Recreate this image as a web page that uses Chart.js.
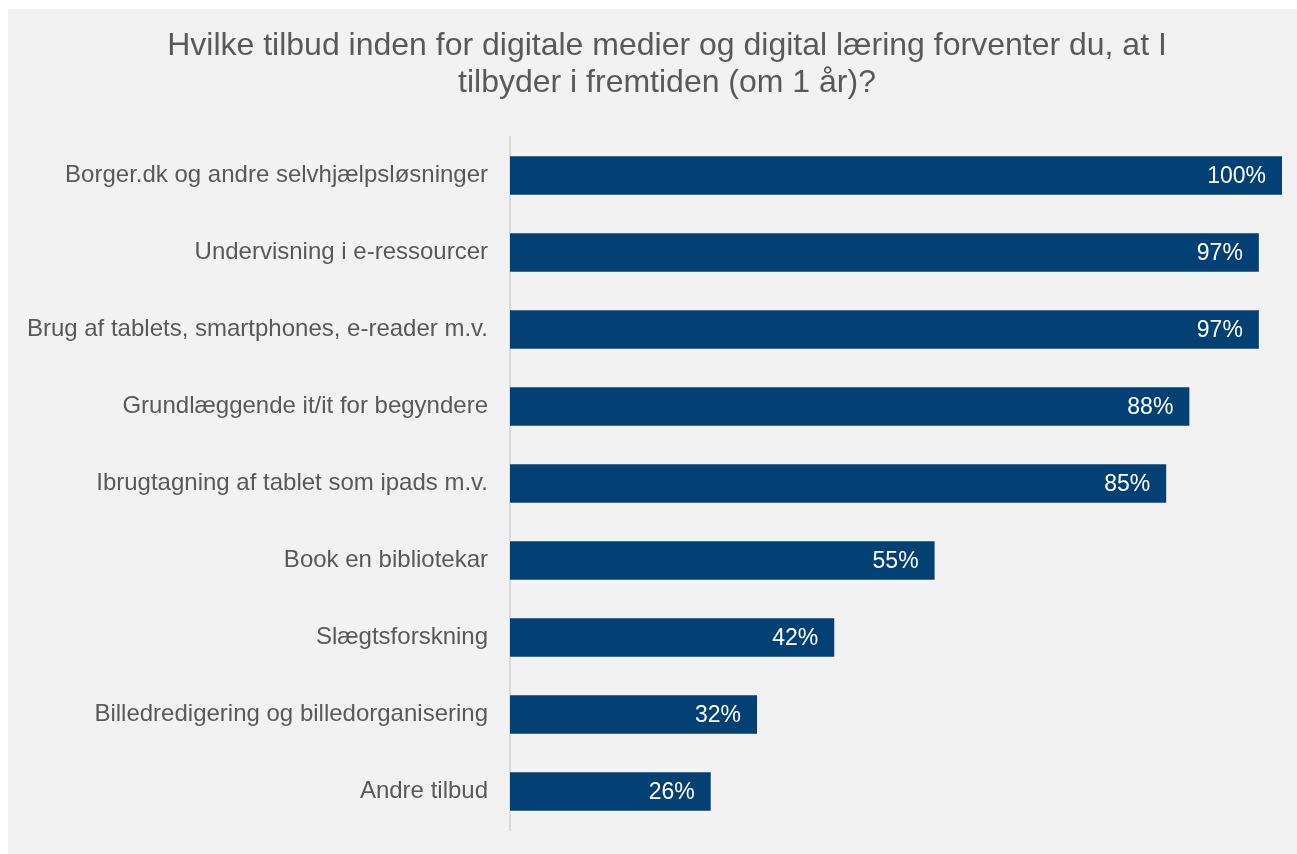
<!DOCTYPE html>
<html>
<head>
<meta charset="utf-8">
<script src="https://cdn.jsdelivr.net/npm/chart.js@4.4.1/dist/chart.umd.min.js"></script>
<style>
  html, body { margin: 0; padding: 0; background: #ffffff; }
  #box { position: absolute; left: 8px; top: 9px; width: 1289px; height: 845px; background: #f2f2f2; }
  canvas { display: block; }
</style>
</head>
<body>
<div id="box"><canvas id="c" width="1289" height="845"></canvas></div>
<script>
const categories = [
  "Borger.dk og andre selvhjælpsløsninger",
  "Undervisning i e-ressourcer",
  "Brug af tablets, smartphones, e-reader m.v.",
  "Grundlæggende it/it for begyndere",
  "Ibrugtagning af tablet som ipads m.v.",
  "Book en bibliotekar",
  "Slægtsforskning",
  "Billedredigering og billedorganisering",
  "Andre tilbud"
];
const values = [100, 97, 97, 88, 85, 55, 42, 32, 26];
const titleLines = [
  "Hvilke tilbud inden for digitale medier og digital læring forventer du, at I",
  "tilbyder i fremtiden (om 1 år)?"
];

const FONT = "'Liberation Sans', Arial, sans-serif";

const titlePlugin = {
  id: 'customTitle',
  afterDraw(chart) {
    const ctx = chart.ctx;
    ctx.save();
    ctx.font = "32px " + FONT;
    ctx.fillStyle = "#595959";
    ctx.textAlign = "center";
    ctx.textBaseline = "alphabetic";
    titleLines.forEach((line, i) => {
      ctx.fillText(line, 659, 46 + i * 36.5);
    });
    ctx.restore();
  }
};

const valueLabels = {
  id: 'valueLabels',
  afterDatasetsDraw(chart) {
    const ctx = chart.ctx;
    const meta = chart.getDatasetMeta(0);
    ctx.save();
    ctx.font = "23px " + FONT;
    ctx.fillStyle = "#ffffff";
    ctx.textAlign = "right";
    ctx.textBaseline = "middle";
    meta.data.forEach((bar, i) => {
      ctx.fillText(values[i] + "%", bar.x - 16, bar.y + 1);
    });
    ctx.restore();
  }
};

new Chart(document.getElementById('c'), {
  type: 'bar',
  data: {
    labels: categories,
    datasets: [{
      data: values,
      backgroundColor: '#034073',
      borderWidth: 0,
      barPercentage: 0.5,
      categoryPercentage: 1.0
    }]
  },
  options: {
    indexAxis: 'y',
    responsive: false,
    animation: false,
    layout: { padding: { left: 0, right: 15, top: 128, bottom: 24 } },
    plugins: {
      legend: { display: false },
      tooltip: { enabled: false },
      title: { display: false }
    },
    scales: {
      x: { display: false, min: 0, max: 100 },
      y: {
        afterFit(scale) {
          scale.width = 502;
          scale.paddingTop = 0;
          scale.paddingBottom = 0;
        },
        grid: { display: false, drawTicks: false },
        border: { display: true, color: '#d9d9d9', width: 2 },
        ticks: {
          color: '#595959',
          padding: 22,
          font: { family: FONT, size: 24 }
        }
      }
    }
  },
  plugins: [valueLabels, titlePlugin]
});
</script>
</body>
</html>
